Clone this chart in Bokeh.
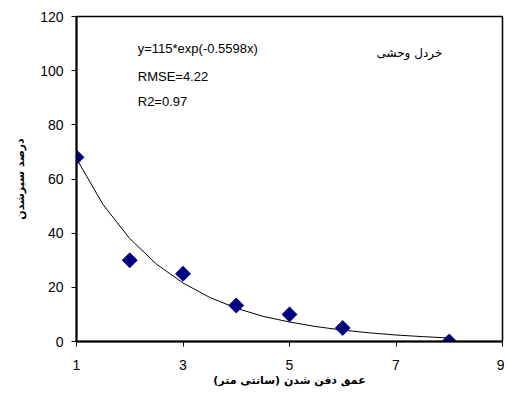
import numpy as np
from bokeh.plotting import figure
from bokeh.models import Label, Range1d, FixedTicker
from bokeh.embed import file_html
from bokeh.resources import INLINE

# observed data
depth = [1, 2, 3, 4, 5, 6, 8]
emergence = [68, 30, 25, 13.3, 10, 5, 0]

# fitted curve
fit_x = [1, 1.5, 2, 2.5, 3, 3.5, 4, 4.5, 5, 5.5, 6, 6.5, 7, 7.5, 8]
fit_y = [67.5, 50.5, 38, 28.6, 21.6, 16.3, 12.3, 9.3, 7.2, 5.5, 4.2, 3.2, 2.4, 1.8, 1.3]

x_ticks = [1, 3, 5, 7, 9]
y_ticks = [0, 20, 40, 60, 80, 100, 120]

eq_text = "y=115*exp(-0.5598x)"
rmse_text = "RMSE=4.22"
r2_text = "R2=0.97"
species = "خردل وحشی"
x_title = "عمق دفن شدن (سانتی متر)"
y_title = "درصد سبزشدن"

p = figure(width=504, height=400, output_backend="svg", toolbar_location=None,
           x_range=Range1d(1, 9), y_range=Range1d(0, 120),
           min_border_left=76, min_border_right=2, min_border_top=16, min_border_bottom=59)
p.background_fill_color = "white"
p.border_fill_color = "white"
p.outline_line_color = "black"
p.outline_line_width = 1.5
p.xgrid.visible = False
p.ygrid.visible = False

for ax in (p.xaxis[0], p.yaxis[0]):
    ax.axis_line_width = 2
    ax.axis_line_color = "black"
    ax.major_tick_out = 5
    ax.major_tick_in = 0
    ax.minor_tick_out = 0
    ax.minor_tick_in = 0
    ax.major_label_text_font = "Liberation Sans"
    ax.major_label_text_font_size = "14px"
    ax.major_label_text_color = "black"
    ax.axis_label_text_font = "DejaVu Sans"
    ax.axis_label_text_font_style = "bold"
    ax.axis_label_text_font_size = "11px"
    ax.axis_label_text_color = "black"

p.xaxis.ticker = FixedTicker(ticks=x_ticks)
p.yaxis.ticker = FixedTicker(ticks=y_ticks)
p.xaxis.major_label_standoff = 13
p.yaxis.major_label_standoff = 8
p.xaxis.axis_label = x_title
p.yaxis.axis_label = y_title
p.xaxis.axis_label_standoff = 1
p.yaxis.axis_label_standoff = 10

p.line(fit_x, fit_y, line_color="black", line_width=1)
p.scatter(depth, emergence, marker="square", angle=np.pi / 4, size=10.5,
          fill_color="#000080", line_color="#000080")

for txt, y in ((eq_text, 108.2), (rmse_text, 97.8), (r2_text, 88.6)):
    p.add_layout(Label(x=2.15, y=y, text=txt, text_font="Liberation Sans",
                       text_font_size="13px", text_baseline="middle", text_color="black"))
p.add_layout(Label(x=7.87, y=106.7, text=species, text_font="DejaVu Sans",
                   text_font_size="12px", text_baseline="middle", text_align="right",
                   text_color="black"))

open("out.html", "w").write(file_html(p, INLINE))
